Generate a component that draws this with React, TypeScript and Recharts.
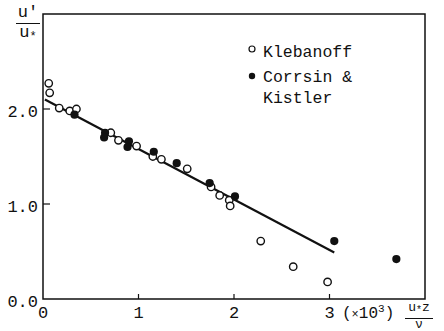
import React from "react";
import {
  ComposedChart,
  Scatter,
  Line,
  XAxis,
  YAxis,
  ReferenceArea,
  Legend,
} from "recharts";

// Klebanoff (open circles)
const klebanoffX = [0.06, 0.07, 0.17, 0.28, 0.35, 0.71, 0.79, 0.98, 1.15, 1.24, 1.51, 1.76, 1.85, 1.95, 1.96, 2.28, 2.62, 2.98];
const klebanoffY = [2.27, 2.17, 2.01, 1.98, 2.0, 1.75, 1.67, 1.61, 1.5, 1.47, 1.37, 1.18, 1.09, 1.04, 0.98, 0.61, 0.34, 0.18];

// Corrsin & Kistler (filled circles)
const corrsinX = [0.33, 0.65, 0.64, 0.9, 0.885, 1.16, 1.4, 1.745, 2.01, 3.05, 3.7];
const corrsinY = [1.94, 1.75, 1.7, 1.66, 1.6, 1.55, 1.43, 1.22, 1.08, 0.61, 0.42];

// fitted straight line
const fitX = [0.02, 3.05];
const fitY = [2.1, 0.49];

const xTicks = [0, 1, 2, 3];
const yTicks = [0, 1, 2];

const seriesNames = ["Klebanoff", "Corrsin & Kistler"];

const toPoints = (xs: number[], ys: number[]) => xs.map((x, i) => ({ x, y: ys[i] }));

const klebanoff = toPoints(klebanoffX, klebanoffY);
const corrsin = toPoints(corrsinX, corrsinY);
const fit = toPoints(fitX, fitY);

const FONT = "'Liberation Mono', 'Courier New', monospace";
const INK = "#111";

const OpenDot = (p: any) => (
  <circle cx={p.cx} cy={p.cy} r={3.7} fill="#fff" stroke={INK} strokeWidth={1.4} />
);
const FilledDot = (p: any) => <circle cx={p.cx} cy={p.cy} r={4.1} fill={INK} />;

const XTick = ({ x, y, payload }: any) => (
  <g>
    {payload.value !== 0 && <line x1={x} x2={x} y1={y} y2={y - 5} stroke={INK} strokeWidth={1.2} />}
    <text x={x} y={y + 19} textAnchor="middle" fontFamily={FONT} fontSize={17} fill={INK}>
      {payload.value}
    </text>
  </g>
);

const YTick = ({ x, y, payload }: any) => (
  <g>
    {payload.value !== 0 && <line x1={x} x2={x + 7} y1={y} y2={y} stroke={INK} strokeWidth={1.2} />}
    <text x={x - 5} y={y + 8} textAnchor="end" fontFamily={FONT} fontSize={17} fill={INK}>
      {payload.value.toFixed(1)}
    </text>
  </g>
);

const LegendBox = ({ payload }: any) => {
  const items = (payload || [])
    .filter((e: any) => seriesNames.includes(e.value))
    .sort((a: any, b: any) => seriesNames.indexOf(a.value) - seriesNames.indexOf(b.value));
  let rowY = 22;
  return (
    <svg width={190} height={80} style={{ display: "block" }}>
      {items.map((entry: any) => {
        const name: string = entry.value;
        const amp = name.indexOf("&");
        const lines = amp >= 0 ? [name.slice(0, amp + 1), name.slice(amp + 2)] : [name];
        const y0 = rowY;
        rowY += 25 + (lines.length - 1) * 21;
        const filled = seriesNames.indexOf(name) === 1;
        return (
          <g key={name}>
            {filled ? (
              <circle cx={12} cy={y0 - 6} r={3.2} fill={INK} />
            ) : (
              <circle cx={12} cy={y0 - 8} r={3} fill="#fff" stroke={INK} strokeWidth={1.2} />
            )}
            <text fontFamily={FONT} fontSize={16.5} fill={INK}>
              {lines.map((l, i) => (
                <tspan key={i} x={23} y={y0 + i * 21}>
                  {l}
                </tspan>
              ))}
            </text>
          </g>
        );
      })}
    </svg>
  );
};

export default function App() {
  return (
    <div
      style={{
        position: "absolute",
        left: 0,
        top: 0,
        width: 444,
        height: 331,
        background: "#fff",
        fontFamily: FONT,
        color: INK,
        overflow: "hidden",
      }}
    >
      <ComposedChart width={444} height={331} margin={{ top: 14, right: 19, left: 0, bottom: 0 }}>
        <XAxis
          type="number"
          dataKey="x"
          domain={[0, 4]}
          ticks={xTicks}
          height={32}
          axisLine={false}
          tickLine={false}
          tickSize={0}
          tickMargin={0}
          tick={<XTick />}
          allowDataOverflow
        />
        <YAxis
          type="number"
          dataKey="y"
          domain={[0, 3]}
          ticks={yTicks}
          width={43}
          axisLine={false}
          tickLine={false}
          tickSize={0}
          tickMargin={0}
          tick={<YTick />}
          allowDataOverflow
        />
        <ReferenceArea x1={0} x2={4} y1={0} y2={3} fill="none" stroke={INK} strokeWidth={1.5} />
        <Line
          data={fit}
          dataKey="y"
          type="linear"
          stroke={INK}
          strokeWidth={2.2}
          dot={false}
          legendType="none"
          isAnimationActive={false}
        />
        <Scatter name={seriesNames[0]} data={klebanoff} dataKey="y" shape={OpenDot} isAnimationActive={false} />
        <Scatter name={seriesNames[1]} data={corrsin} dataKey="y" shape={FilledDot} isAnimationActive={false} />
        <Legend
          layout="vertical"
          align="center"
          verticalAlign="middle"
          content={<LegendBox />}
          wrapperStyle={{ left: 240, top: 35, width: 190, height: 80 }}
        />
      </ComposedChart>

      {/* y axis title: u' / u* */}
      <div
        style={{
          position: "absolute",
          left: 16,
          top: 4,
          width: 24,
          textAlign: "center",
          fontSize: 17,
          lineHeight: "17px",
        }}
      >
        <div>u'</div>
        <div style={{ borderTop: `1.5px solid ${INK}`, marginTop: 2 }}>
          u<span style={{ fontSize: 12, verticalAlign: "-3px" }}>*</span>
        </div>
      </div>

      {/* x axis multiplier */}
      <div style={{ position: "absolute", left: 342, top: 303, fontSize: 16, whiteSpace: "nowrap" }}>
        (<span style={{ fontSize: 12 }}>×</span>10<sup style={{ fontSize: 11 }}>3</sup>)
      </div>

      {/* x axis title: u*z / ν */}
      <div
        style={{
          position: "absolute",
          left: 405,
          top: 302,
          width: 28,
          textAlign: "center",
          fontSize: 13,
          lineHeight: "12px",
        }}
      >
        <div>
          u<span style={{ fontSize: 10, verticalAlign: "-2px" }}>*</span>z
        </div>
        <div style={{ borderTop: `1.5px solid ${INK}`, marginTop: 1 }}>ν</div>
      </div>
    </div>
  );
}
